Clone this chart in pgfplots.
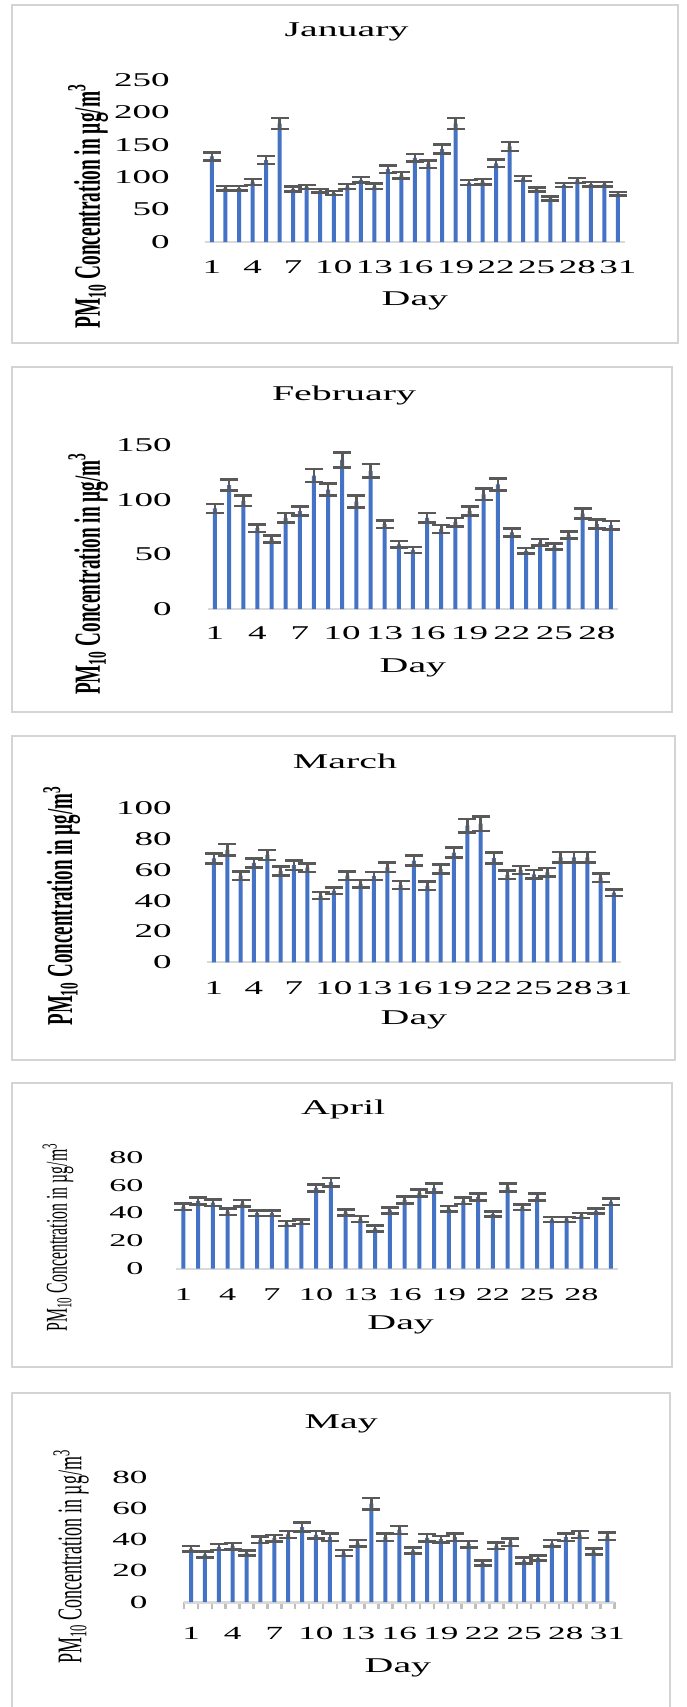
\documentclass[border=0pt]{standalone}
\usepackage{fontspec}
\setmainfont{Liberation Serif}[FakeStretch=1.9]
\newfontfamily\ylfont{Liberation Serif}
\usepackage{graphicx}
\usepackage{pgfplots}
\usepackage{pgfplotstable}
\pgfplotsset{compat=1.18}
\definecolor{barblue}{HTML}{4472C4}
\definecolor{errgray}{HTML}{595959}
\definecolor{axgray}{HTML}{D9D9D9}
\definecolor{tickgray}{HTML}{BFBFBF}
\definecolor{boxgray}{HTML}{D4D4D4}

\pgfplotstableread{
d v e
1 132 6.4
2 83 3.6
3 83 3.6
4 92.6 4.4
5 126.5 6
6 182.5 8.5
7 82 4
8 84.7 3
9 79.3 2.8
10 75.5 3
11 85.5 3.8
12 96 4
13 86 4
14 112.5 5.7
15 103 5
16 130 6
17 120 6
18 143.5 7
19 182.5 8.5
20 91.6 3.9
21 93 4
22 121.4 6
23 147.6 7
24 98 4
25 81 3.3
26 67 3
27 88 3.4
28 95 3.6
29 89.3 3.5
30 89.3 3.5
31 74.5 3
}\janT

\pgfplotstableread{
d v e
1 92 4
2 113.4 5.2
3 99 4.6
4 74 3.4
5 64.2 3.2
6 83.4 4.4
7 89.6 4
8 122 6
9 109.3 5.3
10 136.4 6.9
11 98.3 5.3
12 126.4 6.3
13 77.7 3.4
14 59.1 3
15 54 2.7
16 83.4 4.4
17 73.2 3.7
18 79.4 3.8
19 89.8 4.1
20 104.9 5.2
21 113.9 5.6
22 70 3.5
23 53.2 2.6
24 61 3
25 57.2 2.9
26 67.7 3.4
27 87.2 4.6
28 77.6 4.1
29 76.7 3.8
}\febT

\pgfplotstableread{
d v e
1 67.5 3.2
2 73 3.7
3 56.3 2.8
4 64.5 3
5 69.7 3.2
6 59.2 2.9
7 63.1 3.1
8 61.5 2.8
9 43.3 2.2
10 46.5 2.2
11 56.3 2.8
12 51 2.5
13 56.1 2.6
14 61.7 3
15 50.2 2.6
16 66 3.2
17 49.6 2.8
18 60.5 2.9
19 71.3 3.4
20 88.7 4.3
21 90 4.6
22 67.7 3.5
23 56.8 2.7
24 60 2.6
25 57.1 2.8
26 58.4 2.8
27 68.2 3.3
28 68.2 3.3
29 68.2 3.3
30 55 2.8
31 45.3 2.1
}\marT

\pgfplotstableread{
d v e
1 44.5 2.4
2 48.6 2.4
3 47.4 2.4
4 40.9 2.4
5 46.9 2.4
6 39.8 2
7 39.8 2
8 32.3 1.8
9 33.7 1.7
10 58 2.6
11 62.1 3.2
12 40.4 2.2
13 35.6 2.2
14 28.8 2
15 41.8 2.2
16 49.3 2.4
17 54.3 2.6
18 58 3.2
19 42.9 2
20 48.7 2.3
21 51.4 2.6
22 39.1 1.8
23 58.3 3
24 44.1 2
25 51.4 2.6
26 35.3 1.7
27 35.3 1.7
28 38.3 1.8
29 41.5 1.8
30 48.1 2.4
}\aprT

\pgfplotstableread{
d v e
1 34.1 1.9
2 30.5 1.9
3 35.2 1.9
4 35.8 2.1
5 31.3 1.6
6 39.8 2.1
7 40.9 2.1
8 43.3 2.2
9 48 2.9
10 43 2.5
11 41.5 2.3
12 31.4 1.9
13 37.5 2.1
14 63 3.7
15 41.5 2.3
16 46 2.6
17 33 1.9
18 41.1 2.3
19 40.2 2.1
20 41.5 2.3
21 37.1 2.1
22 24.9 1.6
23 36 2.1
24 38.3 2.3
25 26.7 1.9
26 28.1 1.6
27 37.5 2.1
28 41.5 2.3
29 43.2 2.3
30 32.3 2
31 42 2.4
}\mayT

\pgfplotsset{
  monthaxis/.style={
    scale only axis,
    anchor=south west,
    ybar, bar width=4pt,
    ymin=0,
    axis x line*=bottom, axis y line*=left,
    x axis line style={draw=axgray, line width=2pt, -},
    y axis line style={draw=none},
    major tick length=0pt,
    /pgf/number format/assume math mode=true,
    clip=false,
    title style={anchor=center, font=\fontsize{21}{21}\selectfont},
    xlabel style={anchor=center, font=\fontsize{21}{21}\selectfont},
    ylabel style={anchor=center},
    yticklabel style={anchor=east},
    xticklabel style={anchor=center},
  },
  monthplot/.style={
    fill=barblue, draw=none,
    error bars/.cd, y dir=both, y explicit,
    error mark=|,
    error bar style={line width=2.6pt, draw=errgray},
    error mark options={line width=2.5pt, mark size=9pt, draw=errgray},
  },
}

\begin{document}
\begin{tikzpicture}
\path[use as bounding box] (0pt,0pt) rectangle (686pt,-1707pt);
\fill[white] (0pt,0pt) rectangle (686pt,-1707pt);
% panel frames
\draw[boxgray, line width=2.5pt] (12pt,-5pt) rectangle (678pt,-343pt);
\draw[boxgray, line width=2.5pt] (12pt,-367pt) rectangle (672pt,-712pt);
\draw[boxgray, line width=2.5pt] (12pt,-736pt) rectangle (675pt,-1060pt);
\draw[boxgray, line width=2.5pt] (12pt,-1083pt) rectangle (672pt,-1367pt);
\draw[boxgray, line width=2.5pt] (12pt,-1712pt) -- (12pt,-1393pt) -- (670pt,-1393pt) -- (670pt,-1712pt);

% January
\begin{axis}[monthaxis, at={(205.2pt,-242pt)}, width=419.5pt, height=162pt,
  xmin=0.5, xmax=31.5, ymax=250,
  ytick={0,50,...,250}, xtick={1,4,...,31},
  yticklabel style={xshift=-32pt, font=\fontsize{19.5}{19.5}\selectfont},
  xticklabel style={yshift=-25pt, font=\fontsize{19.5}{19.5}\selectfont},
  title={January}, title style={at={(axis description cs:0.337,1.262)}},
  xlabel={Day}, xlabel style={at={(axis description cs:0.5,-0.364)}},
  ylabel={\ylfont\bfseries\fontsize{19.4}{19.4}\selectfont\scalebox{1}[1.92]{PM\textsubscript{10} Concentration in µg/m\textsuperscript{3}}},
  ylabel style={at={(axis description cs:-0.279,0.219)}},
]
\addplot[monthplot] table[x=d, y=v, y error=e] {\janT};
\end{axis}

% February
\begin{axis}[monthaxis, at={(207.9pt,-609pt)}, width=410.1pt, height=164pt,
  xmin=0.5, xmax=29.5, ymax=150,
  ytick={0,50,100,150}, xtick={1,4,...,28},
  yticklabel style={xshift=-32.6pt, font=\fontsize{19.5}{19.5}\selectfont},
  xticklabel style={yshift=-24pt, font=\fontsize{19.5}{19.5}\selectfont},
  title={February}, title style={at={(axis description cs:0.332,1.268)}},
  xlabel={Day}, xlabel style={at={(axis description cs:0.5,-0.360)}},
  ylabel={\ylfont\bfseries\fontsize{19.2}{19.2}\selectfont\scalebox{1}[1.92]{PM\textsubscript{10} Concentration in µg/m\textsuperscript{3}}},
  ylabel style={at={(axis description cs:-0.292,0.213)}},
]
\addplot[monthplot] table[x=d, y=v, y error=e] {\febT};
\end{axis}

% March
\begin{axis}[monthaxis, at={(207.3pt,-962.3pt)}, width=413.3pt, height=154pt,
  xmin=0.5, xmax=31.5, ymax=100,
  ytick={0,20,...,100}, xtick={1,4,...,31},
  yticklabel style={xshift=-32pt, font=\fontsize{19.5}{19.5}\selectfont},
  xticklabel style={yshift=-26pt, font=\fontsize{19.5}{19.5}\selectfont},
  title={March}, title style={at={(axis description cs:0.333,1.268)}},
  xlabel={Day}, xlabel style={at={(axis description cs:0.5,-0.375)}},
  ylabel={\ylfont\bfseries\fontsize{19}{19}\selectfont\scalebox{1}[1.92]{PM\textsubscript{10} Concentration in µg/m\textsuperscript{3}}},
  ylabel style={at={(axis description cs:-0.3525,0.366)}},
]
\addplot[monthplot] table[x=d, y=v, y error=e] {\marT};
\end{axis}

% April
\begin{axis}[monthaxis, at={(176pt,-1268.5pt)}, width=442.3pt, height=111.2pt,
  xmin=0.5, xmax=30.5, ymax=80,
  ytick={0,20,...,80}, xtick={1,4,...,28},
  yticklabel style={xshift=-29pt, font=\fontsize{18}{18}\selectfont},
  xticklabel style={yshift=-26pt, font=\fontsize{18}{18}\selectfont},
  title={April}, title style={at={(axis description cs:0.378,1.380)}},
  xlabel={Day}, xlabel style={at={(axis description cs:0.508,-0.508)}},
  ylabel={\ylfont\fontsize{15.8}{15.8}\selectfont\scalebox{1}[1.92]{PM\textsubscript{10} Concentration in µg/m\textsuperscript{3}}},
  ylabel style={at={(axis description cs:-0.2668,0.279)}},
]
\addplot[monthplot] table[x=d, y=v, y error=e] {\aprT};
\end{axis}

% May
\begin{axis}[monthaxis, at={(184.1pt,-1602pt)}, width=430.3pt, height=125pt,
  xmin=0.5, xmax=31.5, ymax=80,
  x axis line style={line width=3pt},
  ytick={0,20,...,80}, xtick={1,4,...,31},
  minor xtick={0.5,1.5,...,31.5},
  tick align=outside,
  minor tick length=7pt,
  minor x tick style={draw=tickgray, line width=2.5pt},
  yticklabel style={xshift=-33pt, font=\fontsize{18.5}{18.5}\selectfont},
  xticklabel style={yshift=-31pt, font=\fontsize{18.5}{18.5}\selectfont},
  title={May}, title style={at={(axis description cs:0.365,1.376)}},
  xlabel={Day}, xlabel style={at={(axis description cs:0.497,-0.528)}},
  ylabel={\ylfont\fontsize{18}{18}\selectfont\scalebox{1}[1.92]{PM\textsubscript{10} Concentration in µg/m\textsuperscript{3}}},
  ylabel style={at={(axis description cs:-0.2628,0.36)}},
]
\addplot[monthplot] table[x=d, y=v, y error=e] {\mayT};
\end{axis}
\end{tikzpicture}
\end{document}
